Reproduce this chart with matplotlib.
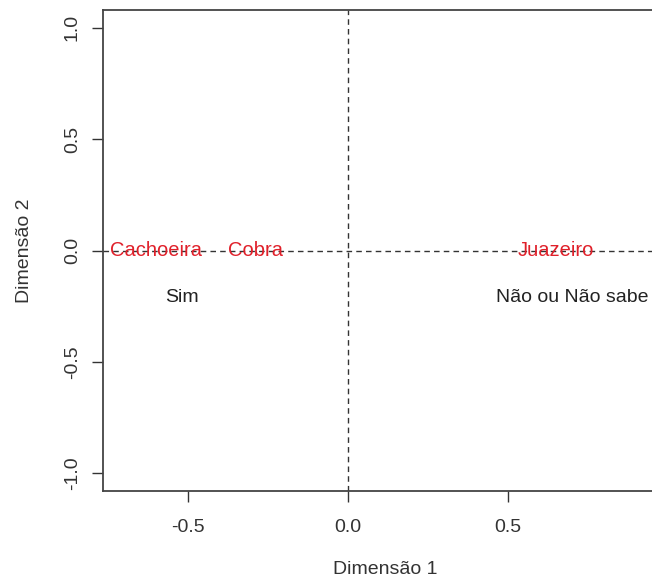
import numpy as np
import matplotlib.pyplot as plt

plt.rcParams['font.family'] = ['Liberation Sans', 'DejaVu Sans']

# Coordenadas das categorias (linhas e colunas)
linhas = ["Cachoeira", "Cobra", "Juazeiro"]
linhas_x = [-0.60, -0.29, 0.65]
linhas_y = [0.0, 0.0, 0.0]

colunas = ["Sim", "Não ou Não sabe"]
colunas_x = [-0.52, 0.70]
colunas_y = [-0.21, -0.21]

xticks = [-0.5, 0.0, 0.5]
yticks = [-1.0, -0.5, 0.0, 0.5, 1.0]

fig = plt.figure(figsize=(6.52, 5.85), dpi=100)
ax = fig.add_axes([0.158, 0.1607, 0.8666, 0.822])

ax.set_xlim(-0.766, 1.0)
ax.set_ylim(-1.08, 1.08)

ax.axhline(0, color='#333333', linestyle=(0, (4, 3)), linewidth=1)
ax.axvline(0, color='#333333', linestyle=(0, (4, 3)), linewidth=1)

for nome, x, y in zip(linhas, linhas_x, linhas_y):
    ax.text(x, y, nome, color='#e0202a', fontsize=14.5, ha='center', va='center')
for nome, x, y in zip(colunas, colunas_x, colunas_y):
    ax.text(x, y, nome, color='#222222', fontsize=14, ha='center', va='center')

ax.set_xticks(xticks)
ax.set_xticklabels([f"{t:.1f}" for t in xticks])
ax.set_yticks(yticks)
ax.set_yticklabels([f"{t:.1f}" for t in yticks], rotation=90, va='center')

ax.tick_params(axis='both', labelsize=14, colors='#333333', length=8, width=1, pad=12)
ax.tick_params(axis='y', pad=8)
for s in ax.spines.values():
    s.set_color('#444444')
    s.set_linewidth(1.3)

ax.set_xlabel("Dimensão 1", fontsize=14, color='#333333', labelpad=18)
ax.set_ylabel("Dimensão 2", fontsize=14, color='#333333', labelpad=22)

fig.savefig("out.png", dpi=100)
